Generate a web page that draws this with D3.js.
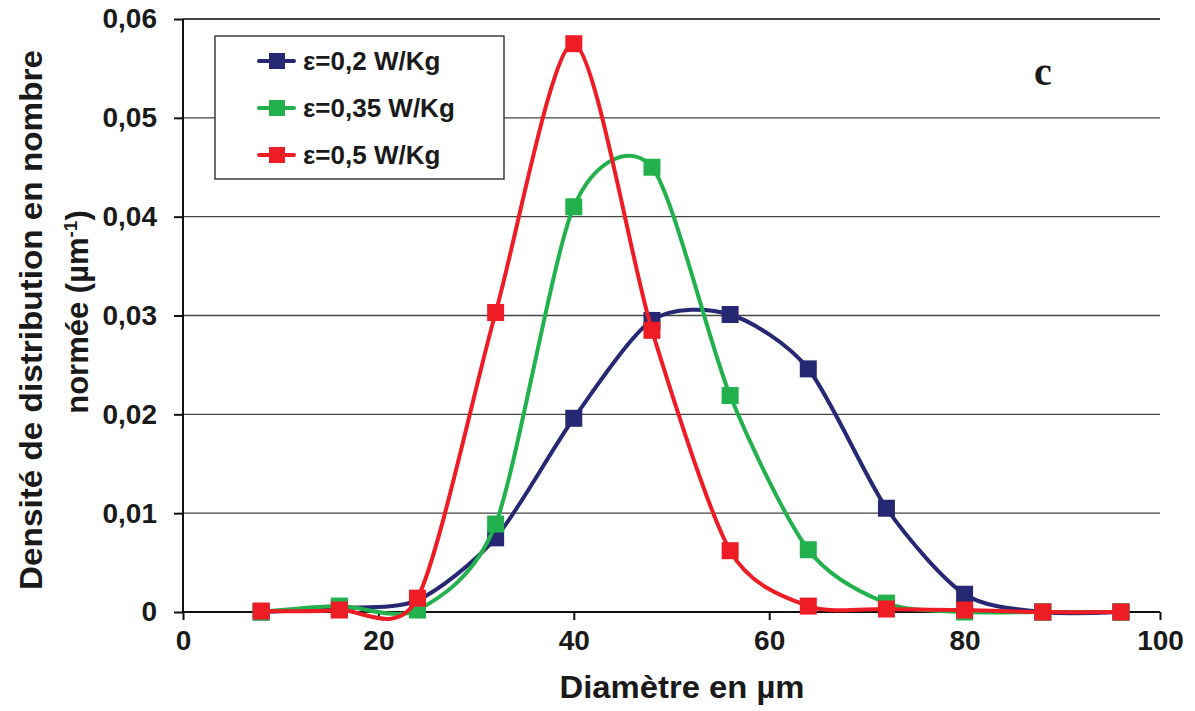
<!DOCTYPE html>
<html><head><meta charset="utf-8">
<script src="https://cdn.jsdelivr.net/npm/d3@7"></script>
<style>body{margin:0;background:#fff;}</style>
</head><body>
<svg id="c" width="1195" height="711" font-family="Arial, 'Liberation Sans', sans-serif"></svg>
<script>
const diam = [8,16,24,32,40,48,56,64,72,80,88,96];
const eps02  = [0,0.0004,0.0012,0.0075,0.0196,0.0295,0.0301,0.0246,0.0105,0.0018,0,0];
const eps035 = [0,0.0006,0.0002,0.0089,0.0410,0.0450,0.0219,0.0063,0.0009,0,0,0];
const eps05  = [0.0001,0.0002,0.0014,0.0303,0.0575,0.0285,0.0062,0.0006,0.0003,0.0002,0,0];
const seriesNames = ["ε=0,2 W/Kg","ε=0,35 W/Kg","ε=0,5 W/Kg"];
const seriesColors = ["#262874","#22b14c","#ee1c25"];
const xTicks = [0,20,40,60,80,100];
const yTicks = [0,0.01,0.02,0.03,0.04,0.05,0.06];

const svg = d3.select("#c");
const x = d3.scaleLinear().domain([0,100]).range([183,1160]);
const y = d3.scaleLinear().domain([0,0.06]).range([612,19]);

// gridlines
svg.append("g").selectAll("line").data(yTicks.slice(1)).join("line")
  .attr("x1",183).attr("x2",1160).attr("y1",d=>y(d)).attr("y2",d=>y(d))
  .attr("stroke","#444").attr("stroke-width",d=>d===0.06?2:1.3);

// axes
const fmt = d => d===0 ? "0" : d3.format(".2f")(d).replace(".",",");
const ya = svg.append("g").attr("transform","translate(183,0)")
  .call(d3.axisLeft(y).tickValues(yTicks).tickFormat(fmt).tickSize(9).tickPadding(17));
const xa = svg.append("g").attr("transform","translate(0,612)")
  .call(d3.axisBottom(x).tickValues(xTicks).tickSize(8).tickPadding(10));
[ya,xa].forEach(a=>{
  a.attr("font-family","Arial, 'Liberation Sans', sans-serif").attr("font-size",28);
  a.selectAll("path,line").attr("stroke","#111").attr("stroke-width",2);
  a.selectAll("text").attr("font-weight","bold").attr("fill","#1a1a1a");
});
ya.select(".domain").attr("d","M0,19V612");
xa.select(".domain").attr("d","M183,0H1160");

// series
const data = [eps02,eps035,eps05];
const line = d3.line().x((d,i)=>x(diam[i])).y(d=>y(d)).curve(d3.curveCardinal.tension(0.2));
data.forEach((s,k)=>{
  const g = svg.append("g");
  g.append("path").attr("d",line(s)).attr("fill","none")
   .attr("stroke",seriesColors[k]).attr("stroke-width",4);
  g.selectAll("rect").data(s).join("rect")
   .attr("x",(d,i)=>x(diam[i])-8.5).attr("y",d=>y(d)-8.5)
   .attr("width",17).attr("height",17).attr("fill",seriesColors[k]);
});

// legend
const lg = svg.append("g");
lg.append("rect").attr("x",215).attr("y",36).attr("width",289).attr("height",143)
  .attr("fill","#fff").attr("stroke","#222").attr("stroke-width",1.3);
seriesNames.forEach((n,k)=>{
  const yy = 61 + k*47;
  lg.append("line").attr("x1",259).attr("x2",294).attr("y1",yy).attr("y2",yy)
    .attr("stroke",seriesColors[k]).attr("stroke-width",4).attr("stroke-linecap","round");
  lg.append("rect").attr("x",269).attr("y",yy-8).attr("width",16).attr("height",16).attr("fill",seriesColors[k]);
  lg.append("text").attr("x",303).attr("y",yy+9).attr("font-size",26).attr("font-weight","bold")
    .attr("fill","#1a1a1a").text(n);
});

// label c
svg.append("text").attr("x",1043).attr("y",85).attr("text-anchor","middle")
  .attr("font-family","'Liberation Serif','DejaVu Serif',serif").attr("font-weight","bold")
  .attr("font-size",40).attr("fill","#1a1a1a").text("c");

// axis titles
svg.append("text").attr("x",682).attr("y",698).attr("text-anchor","middle")
  .attr("font-size",31).attr("font-weight","bold").attr("fill","#1a1a1a")
  .attr("textLength",245).attr("lengthAdjust","spacingAndGlyphs").text("Diamètre en µm");
const yt1 = svg.append("text").attr("transform","translate(42,320) rotate(-90)")
  .attr("text-anchor","middle").attr("font-size",31).attr("font-weight","bold").attr("fill","#1a1a1a")
  .attr("textLength",540).attr("lengthAdjust","spacingAndGlyphs")
  .text("Densité de distribution en nombre");
const yt2 = svg.append("text").attr("transform","translate(88,312) rotate(-90)")
  .attr("text-anchor","middle").attr("font-size",31).attr("font-weight","bold").attr("fill","#1a1a1a");
yt2.append("tspan").text("normée (µm");
yt2.append("tspan").attr("dy",-11).attr("font-size",19).text("-1");
yt2.append("tspan").attr("dy",11).text(")");
</script>
</body></html>
